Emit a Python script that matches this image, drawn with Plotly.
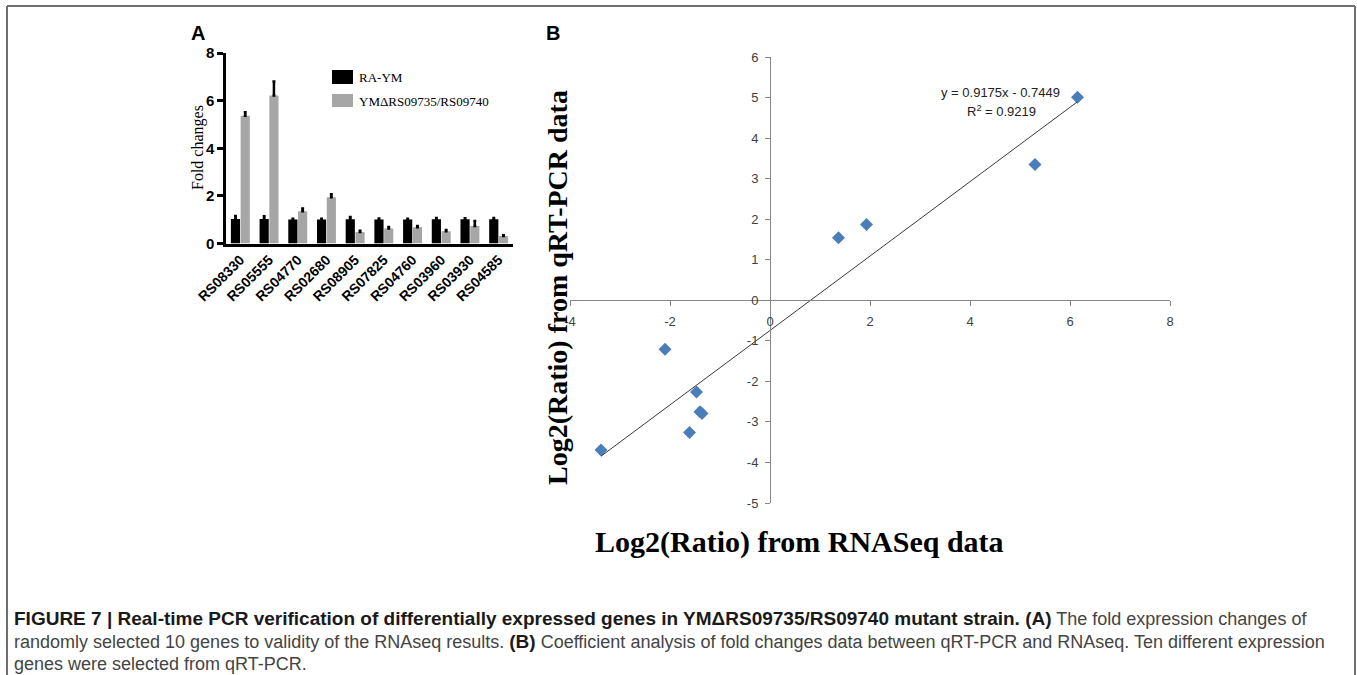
import plotly.graph_objects as go

# ---------------- data ----------------
genes = ["RS08330", "RS05555", "RS04770", "RS02680", "RS08905",
         "RS07825", "RS04760", "RS03960", "RS03930", "RS04585"]
ra_ym = [1.03, 1.03, 1.01, 1.01, 1.02, 1.01, 1.01, 1.02, 1.02, 1.02]
ra_ym_err = [0.13, 0.11, 0.03, 0.03, 0.09, 0.04, 0.03, 0.05, 0.04, 0.05]
mutant = [5.37, 6.22, 1.35, 1.94, 0.48, 0.63, 0.68, 0.51, 0.74, 0.31]
mutant_err = [0.14, 0.58, 0.12, 0.13, 0.06, 0.06, 0.05, 0.06, 0.20, 0.04]
legend_names = ["RA-YM", "YM\u0394RS09735/RS09740"]
a_yticks = [0, 2, 4, 6, 8]

rnaseq = [1.37, 1.93, 6.15, 5.30, -2.10, -1.47, -1.40, -1.36, -1.61, -3.38]
qrtpcr = [1.54, 1.87, 5.01, 3.35, -1.21, -2.26, -2.75, -2.79, -3.26, -3.69]
slope, intercept = 0.9175, -0.7449
r_squared = 0.9219
b_xticks = [-4, -2, 0, 2, 4, 6, 8]
b_yticks = [-5, -4, -3, -2, -1, 0, 1, 2, 3, 4, 5, 6]

# ---------------- helpers (pixel -> paper) ----------------
W, H = 1357, 675
def px(x):
    return x / W
def py(y):
    return 1 - y / H

fig = go.Figure()

# Panel A bars
fig.add_trace(go.Bar(
    x=genes, y=ra_ym, name=legend_names[0], marker=dict(color="#000000", line=dict(width=0)),
    error_y=dict(type="data", array=ra_ym_err, arrayminus=[0] * len(genes), symmetric=False,
                 color="#000000", thickness=2.5, width=1.5),
    xaxis="x", yaxis="y", showlegend=False))
fig.add_trace(go.Bar(
    x=genes, y=mutant, name=legend_names[1], marker=dict(color="#A6A6A6", line=dict(width=0)),
    error_y=dict(type="data", array=mutant_err, arrayminus=[0] * len(genes), symmetric=False,
                 color="#000000", thickness=2.5, width=1.5),
    xaxis="x", yaxis="y", showlegend=False))

# Panel B scatter + trendline
fig.add_trace(go.Scatter(
    x=rnaseq, y=qrtpcr, mode="markers",
    marker=dict(symbol="diamond", size=10, color="#4A7EBB", line=dict(width=0)),
    xaxis="x2", yaxis="y2", showlegend=False))
x_line = [min(rnaseq), max(rnaseq)]
y_line = [slope * v + intercept for v in x_line]
fig.add_trace(go.Scatter(
    x=x_line, y=y_line, mode="lines", line=dict(color="#3a3a3a", width=1),
    xaxis="x2", yaxis="y2", showlegend=False))

# axis geometry
xa2_dom = [px(570), px(1170)]
ya2_dom = [py(503), py(57)]
xr2 = [-4, 8]
yr2 = [-5, 6]
ypos_for_x = ya2_dom[0] + (0 - yr2[0]) / (yr2[1] - yr2[0]) * (ya2_dom[1] - ya2_dom[0])
xpos_for_y = xa2_dom[0] + (0 - xr2[0]) / (xr2[1] - xr2[0]) * (xa2_dom[1] - xa2_dom[0])

tick_gray = "#868686"
fig.update_layout(
    template="none",
    width=W, height=H,
    margin=dict(l=0, r=0, t=0, b=0, pad=0),
    paper_bgcolor="white", plot_bgcolor="rgba(0,0,0,0)",
    barmode="group", bargap=0.32, bargroupgap=0.06,
    xaxis=dict(domain=[px(226), px(513)], anchor="y", range=[-0.5, 9.5], automargin=False,
               showline=True, linecolor="#000", linewidth=2.5, ticks="",
               tickangle=-45, showgrid=False, zeroline=False,
               tickfont=dict(family="Liberation Sans", size=14, color="#000", weight="bold")),
    yaxis=dict(domain=[py(243.5), py(53)], anchor="x", range=[0, 8], automargin=False,
               tickvals=a_yticks, ticktext=[str(v) for v in a_yticks],
               showline=True, linecolor="#000", linewidth=2.5, ticks="outside",
               ticklen=6, tickwidth=2.5, tickcolor="#000", showgrid=False, zeroline=False,
               tickfont=dict(family="Liberation Sans", size=15, color="#000", weight="bold")),
    xaxis2=dict(domain=xa2_dom, range=xr2, anchor="free", position=ypos_for_x, automargin=False,
                tickvals=b_xticks, ticktext=[str(v) for v in b_xticks],
                showline=True, linecolor=tick_gray, linewidth=1, ticks="outside",
                ticklen=5, tickwidth=1, tickcolor=tick_gray, showgrid=False, zeroline=False,
                ticklabelstandoff=4,
                tickfont=dict(family="Liberation Sans", size=13, color="#404040")),
    yaxis2=dict(domain=ya2_dom, range=yr2, anchor="free", position=xpos_for_y, automargin=False,
                tickvals=b_yticks, ticktext=[str(v) for v in b_yticks],
                showline=True, linecolor=tick_gray, linewidth=1, ticks="outside",
                ticklen=5, tickwidth=1, tickcolor=tick_gray, showgrid=False, zeroline=False,
                ticklabelstandoff=4,
                tickfont=dict(family="Liberation Sans", size=13, color="#404040")),
)

# Legend for panel A (manual) + outer frame
shapes = [
    dict(type="rect", xref="paper", yref="paper", x0=px(332), x1=px(353), y0=py(84), y1=py(70),
         fillcolor="#000", line=dict(width=0)),
    dict(type="rect", xref="paper", yref="paper", x0=px(332), x1=px(353), y0=py(107), y1=py(94),
         fillcolor="#A6A6A6", line=dict(width=0)),
    dict(type="line", xref="paper", yref="paper", x0=px(7), x1=px(1355), y0=py(6), y1=py(6),
         line=dict(color="#6f6f6f", width=2)),
    dict(type="line", xref="paper", yref="paper", x0=px(7), x1=px(7), y0=py(6), y1=py(680),
         line=dict(color="#6f6f6f", width=2)),
    dict(type="line", xref="paper", yref="paper", x0=px(1355), x1=px(1355), y0=py(6), y1=py(680),
         line=dict(color="#6f6f6f", width=2)),
]
fig.update_layout(shapes=shapes)

serif = "Liberation Serif"
ann = []
ann.append(dict(text=legend_names[0], x=px(357), y=py(77), xref="paper", yref="paper",
                xanchor="left", yanchor="middle", showarrow=False,
                font=dict(family=serif, size=13, color="#000")))
ann.append(dict(text=legend_names[1], x=px(357), y=py(101), xref="paper", yref="paper",
                xanchor="left", yanchor="middle", showarrow=False,
                font=dict(family=serif, size=13, color="#000")))
ann.append(dict(text="Fold changes", x=px(198), y=py(148), xref="paper", yref="paper",
                textangle=-90, showarrow=False, xanchor="center", yanchor="middle",
                font=dict(family=serif, size=16, color="#000")))
ann.append(dict(text="<b>A</b>", x=px(198), y=py(33), xref="paper", yref="paper",
                showarrow=False, xanchor="center", yanchor="middle",
                font=dict(family="Liberation Sans", size=20, color="#000")))
ann.append(dict(text="<b>B</b>", x=px(553), y=py(33), xref="paper", yref="paper",
                showarrow=False, xanchor="center", yanchor="middle",
                font=dict(family="Liberation Sans", size=20, color="#000")))
# Trendline equation
ann.append(dict(text="y = %.4fx - %.4f" % (slope, -intercept), x=4.6, y=5.12,
                xref="x2", yref="y2", showarrow=False, xanchor="center", yanchor="middle",
                font=dict(family="Liberation Sans", size=13, color="#222")))
ann.append(dict(text="R<sup>2</sup> = %.4f" % r_squared, x=4.62, y=4.66,
                xref="x2", yref="y2", showarrow=False, xanchor="center", yanchor="middle",
                font=dict(family="Liberation Sans", size=13, color="#222")))
# Panel B axis titles
ann.append(dict(text="<b>Log2(Ratio) from RNASeq data</b>", x=px(799), y=py(542),
                xref="paper", yref="paper", showarrow=False, xanchor="center", yanchor="middle",
                font=dict(family=serif, size=30, color="#000")))
ann.append(dict(text="<b>Log2(Ratio) from qRT-PCR data</b>", x=px(557), y=py(288),
                xref="paper", yref="paper", showarrow=False, xanchor="center", yanchor="middle",
                textangle=-90, font=dict(family=serif, size=28, color="#000")))
# Caption
cap_font = dict(family="Liberation Sans", size=18, color="#444")
dark = '<span style="color:#1a1a1a;font-size:19px"><b>%s</b></span>'
line1 = (dark % ("FIGURE 7 | Real-time PCR verification of differentially expressed genes in "
                 "YM\u0394RS09735/RS09740 mutant strain. (A)")) + " The fold expression changes of"
line2 = ("randomly selected 10 genes to validity of the RNAseq results. " + (dark % "(B)") +
         " Coefficient analysis of fold changes data between qRT-PCR and RNAseq. Ten different expression")
line3 = "genes were selected from qRT-PCR."
for i, t in enumerate([line1, line2, line3]):
    ann.append(dict(text=t, x=px(12), y=py(618 + 23 * i), xref="paper", yref="paper",
                    showarrow=False, xanchor="left", yanchor="middle", font=cap_font))
fig.update_layout(annotations=ann)

fig.write_html("out.html", config={"displayModeBar": False},
               post_script="document.body.style.margin='0px';document.body.style.overflow='hidden';")
